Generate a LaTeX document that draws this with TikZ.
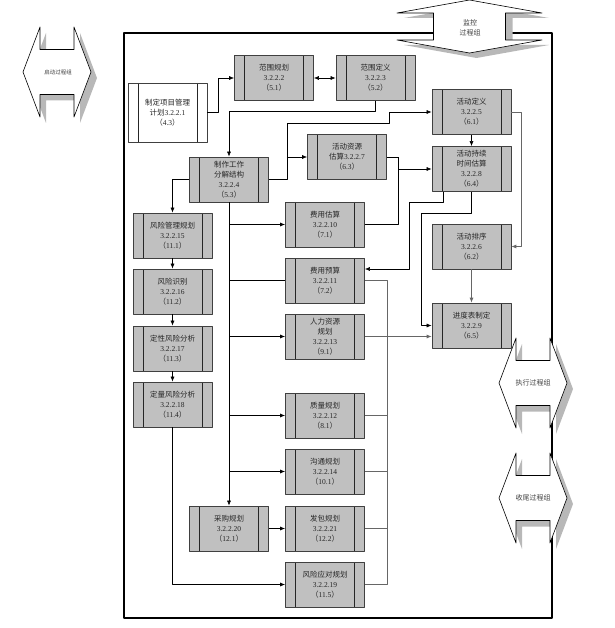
\documentclass[tikz,border=0pt]{standalone}
\usepackage{fontspec}
\setmainfont{Liberation Serif}
\newfontfamily\cjk{Noto Sans CJK SC}
\usetikzlibrary{arrows.meta}
\definecolor{boxgray}{HTML}{C0C0C0}
\definecolor{shadowgray}{HTML}{B8B8B8}
\newcommand\kh[1]{{\cjk （}#1{\cjk ）}}

\tikzset{
  proc/.style={draw=black!75, fill=boxgray, line width=0.7pt, minimum width=79pt,
    minimum height=45pt, inner sep=0pt, align=center, text=black!85,
    font=\fontsize{7.5}{10}\selectfont,
    path picture={\draw[black!85, line width=0.7pt]
      ([xshift=10pt]path picture bounding box.north west) -- ([xshift=10pt]path picture bounding box.south west)
      ([xshift=-10pt]path picture bounding box.north east) -- ([xshift=-10pt]path picture bounding box.south east);}},
  conn/.style={draw=black, line width=0.6pt},
  conng/.style={draw=black!60, line width=0.8pt},
  grouplbl/.style={font=\cjk\fontsize{7}{10}\selectfont, align=center, text=black!75},
  hgroup/.pic={
    \fill[shadowgray, shift={(6,6)}] (-34,0) -- (-17,-45) -- (-17,-22.5) -- (17,-22.5) -- (17,-45) -- (34,0)
      -- (17,45) -- (17,22.5) -- (-17,22.5) -- (-17,45) -- cycle;
    \filldraw[fill=white, draw=black, line width=0.6pt] (-34,0) -- (-17,-45) -- (-17,-22.5) -- (17,-22.5)
      -- (17,-45) -- (34,0) -- (17,45) -- (17,22.5) -- (-17,22.5) -- (-17,45) -- cycle;
  },
  vgroup/.pic={
    \fill[shadowgray, shift={(7,5)}] (0,-26.5) -- (72.5,-13.5) -- (36,-13.5) -- (36,13.5) -- (72.5,13.5)
      -- (0,26.5) -- (-72.5,13.5) -- (-36,13.5) -- (-36,-13.5) -- (-72.5,-13.5) -- cycle;
    \filldraw[fill=white, draw=black, line width=0.6pt] (0,-26.5) -- (72.5,-13.5) -- (36,-13.5) -- (36,13.5)
      -- (72.5,13.5) -- (0,26.5) -- (-72.5,13.5) -- (-36,13.5) -- (-36,-13.5) -- (-72.5,-13.5) -- cycle;
  }
}

\begin{document}
\begin{tikzpicture}[x=1pt, y=-1pt, >={Latex[length=5pt,width=4pt]}, line join=round]
	\useasboundingbox (0,0) rectangle (614,628);
	% frame and process groups
	\draw[line width=1.6pt] (124,33) rectangle (552,618);
	\pic at (57,72) {hgroup};
	\pic at (533,383) {hgroup};
	\pic at (533,498) {hgroup};
	\pic at (469.5,26.5) {vgroup};
	\node[grouplbl, font=\cjk\fontsize{5.5}{7}\selectfont] (startlbl) at (58,72) {启动过程组};
	\node[grouplbl] (monlbl) at (470,28) {监控\\过程组};
	\node[grouplbl] (execlbl) at (533,383) {执行过程组};
	\node[grouplbl] (closelbl) at (533,498) {收尾过程组};

	% processes
	\node[proc, fill=white, minimum height=59pt] (pmp) at (167.5,112.5) {{\cjk 制定项目管理}\\{\cjk 计划}3.2.2.1\\\kh{4.3}};
	\node[proc] (scplan) at (274,78) {{\cjk 范围规划}\\3.2.2.2\\\kh{5.1}};
	\node[proc] (scdef) at (375.5,78) {{\cjk 范围定义}\\3.2.2.3\\\kh{5.2}};
	\node[proc] (wbs) at (229,179.5) {{\cjk 制作工作}\\{\cjk 分解结构}\\3.2.2.4\\\kh{5.3}};
	\node[proc] (actres) at (347,157) {{\cjk 活动资源}\\{\cjk 估算}3.2.2.7\\\kh{6.3}};
	\node[proc] (actdef) at (471.5,112) {{\cjk 活动定义}\\3.2.2.5\\\kh{6.1}};
	\node[proc] (actdur) at (471.5,169) {{\cjk 活动持续}\\{\cjk 时间估算}\\3.2.2.8\\\kh{6.4}};
	\node[proc] (seq) at (471.5,246.5) {{\cjk 活动排序}\\3.2.2.6\\\kh{6.2}};
	\node[proc] (sched) at (471.5,325.5) {{\cjk 进度表制定}\\3.2.2.9\\\kh{6.5}};
	\node[proc] (rkplan) at (172.5,235.5) {{\cjk 风险管理规划}\\3.2.2.15\\\kh{11.1}};
	\node[proc] (rkid) at (172.5,291.5) {{\cjk 风险识别}\\3.2.2.16\\\kh{11.2}};
	\node[proc] (rkqual) at (172.5,348.5) {{\cjk 定性风险分析}\\3.2.2.17\\\kh{11.3}};
	\node[proc] (rkquant) at (172.5,404.5) {{\cjk 定量风险分析}\\3.2.2.18\\\kh{11.4}};
	\node[proc] (costest) at (325,224.5) {{\cjk 费用估算}\\3.2.2.10\\\kh{7.1}};
	\node[proc] (budget) at (325,280.5) {{\cjk 费用预算}\\3.2.2.11\\\kh{7.2}};
	\node[proc] (hr) at (325,336.5) {{\cjk 人力资源}\\{\cjk 规划}\\3.2.2.13\\\kh{9.1}};
	\node[proc] (qual) at (325,415.5) {{\cjk 质量规划}\\3.2.2.12\\\kh{8.1}};
	\node[proc] (comm) at (325,471.5) {{\cjk 沟通规划}\\3.2.2.14\\\kh{10.1}};
	\node[proc] (contract) at (325,528.5) {{\cjk 发包规划}\\3.2.2.21\\\kh{12.2}};
	\node[proc] (rkresp) at (325,584.5) {{\cjk 风险应对规划}\\3.2.2.19\\\kh{11.5}};
	\node[proc] (purch) at (229,528.5) {{\cjk 采购规划}\\3.2.2.20\\\kh{12.1}};

	% scope and wbs
	\draw[conn,->] (pmp.east) -- ++(11,0) |- (scplan.west);
	\draw[conn,<->] (scplan.east) -- (scdef.west);
	\draw[conn,->] (scdef.south) -- ++(0,10) -| (wbs.north);
	\draw[conn,->] (wbs.east) -- ++(18,0) coordinate (wj) -- ++(0,-56.5) -- ++(102,0) |- (actdef.west);
	\draw[conn,->] (wj |- actres.west) -- (actres.west);
	% time and cost
	\draw[conn,->] (actres.east) -- ++(11,0) coordinate (rj) |- (actdur.west);
	\draw[conn] (costest.east) -| (rj);
	\draw[conn,->] (actdef) -- (actdur);
	\draw[conn,->] ([xshift=-28pt]actdur.south) -- ++(0,10) -- ++(-34,0) |- ([yshift=11.5pt]budget.east);
	\draw[conn,->] (actdur.south) -- ++(0,21) -- ++(-50,0) |- (sched.west);
	\draw[conng,->] (actdef.east) -- ++(10.5,0) |- (seq.east);
	\draw[conng,->] (seq) -- (sched);
	\draw[conng,->] (hr.east) -- (hr.east -| sched.west);
	\draw[conng] (budget.east) -- ++(23,0) coordinate (bj) |- (rkresp.east);
	\foreach \p in {qual,comm,contract}
		\draw[conng] (\p.east) -- (\p.east -| bj);
	% wbs bus
	\draw[conn,->] (wbs.south) -- (purch.north);
	\foreach \p in {costest,hr,qual,comm}
		\draw[conn,->] (wbs.south |- \p.west) -- (\p.west);
	\draw[conn] (wbs.south |- budget.west) -- (budget.west);
	\draw[conn,->] (purch) -- (contract);
	% risk
	\draw[conn,->] (wbs.west) -| (rkplan.north);
	\foreach \a/\b in {rkplan/rkid,rkid/rkqual,rkqual/rkquant}
		\draw[conn,->] (\a) -- (\b);
	\draw[conn,->] (rkquant.south) |- (rkresp.west);
\end{tikzpicture}
\end{document}
